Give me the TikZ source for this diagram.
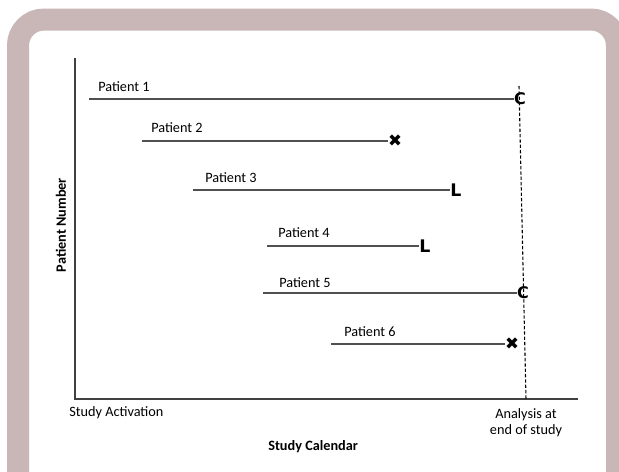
\documentclass[tikz,border=0pt]{standalone}
\usepackage{fontspec}
\setmainfont{Carlito}
\newfontfamily\markfont{DejaVu Sans}
\usetikzlibrary{positioning}

\definecolor{framecol}{RGB}{201,183,183}
\definecolor{axisgray}{RGB}{64,64,64}
\definecolor{linegray}{RGB}{80,80,80}

\begin{document}
\begin{tikzpicture}[x=0.75pt, y=-0.75pt,
        axis/.style = {draw=axisgray, line width=1pt},
        stay/.style = {draw=linegray, line width=1pt},
        cutoff/.style = {draw=black, line width=0.8pt, dash pattern=on 2.5pt off 1.5pt},
        lbl/.style = {anchor=west, inner sep=0pt, font=\fontsize{10.7}{12}\selectfont},
        endc/.style = {inner sep=0pt, font=\markfont\bfseries\fontsize{12}{12}\selectfont},
        endl/.style = {inner sep=0pt, font=\markfont\bfseries\fontsize{13}{13}\selectfont},
        endx/.style = {inner sep=0pt, font=\markfont\fontsize{12.5}{12}\selectfont}]
        \useasboundingbox (0,0) rectangle (619,472);
        \fill[white] (0,0) rectangle (619,472);
        \begin{scope}
            \clip (0,0) rectangle (619,472);
            \draw[draw=framecol, line width=16.5pt, rounded corners=19.5pt] (18,19.5) rectangle (617,520);
        \end{scope}

        % axes
        \coordinate (top) at (75,58);
        \coordinate (origin) at (75,399);
        \coordinate (right) at (578,399);
        \draw[axis] (top) -- (origin) -- (right);

        % end of study
        \coordinate (dtop) at (519,86);
        \coordinate (dbot) at (526,399);
        \draw[cutoff] (dtop) -- (dbot);

        % patients
        \coordinate (s1) at (89,99);
        \coordinate (s2) at (142,141);
        \coordinate (s3) at (193,190);
        \coordinate (s4) at (267,246);
        \coordinate (s5) at (263,293);
        \coordinate (s6) at (331,344);
        \node[endc] (e1) at (520,99) {C};
        \node[endx] (e2) at (395,141) {✖};
        \node[endl] (e3) at (456,190) {L};
        \node[endl] (e4) at (425,246) {L};
        \node[endc] (e5) at (523,293) {C};
        \node[endx] (e6) at (512,344) {✖};
        \draw[stay] (s1) -- (e1);
        \draw[stay] (s2) -- (e2);
        \draw[stay] (s3) -- (e3);
        \draw[stay] (s4) -- (e4);
        \draw[stay] (s5) -- (e5);
        \draw[stay] (s6) -- (e6);
        \node[lbl] (p1) at (98,87) {Patient 1};
        \node[lbl] (p2) at (151,128) {Patient 2};
        \node[lbl] (p3) at (205,178) {Patient 3};
        \node[lbl] (p4) at (278,233) {Patient 4};
        \node[lbl] (p5) at (279,283) {Patient 5};
        \node[lbl] (p6) at (344,332) {Patient 6};

        % axis labels
        \node[lbl] (act) at (69,413) {Study Activation};
        \node[inner sep=0pt, align=center, font=\fontsize{10.7}{12}\selectfont] (ana) at (526,423) {Analysis at\\end of study};
        \node[lbl, font=\bfseries\fontsize{10.7}{12}\selectfont] (cal) at (268,447) {Study Calendar};
        \node[inner sep=0pt, rotate=90, font=\bfseries\fontsize{10.7}{12}\selectfont] (num) at (61,225) {Patient Number};
    \end{tikzpicture}
\end{document}
